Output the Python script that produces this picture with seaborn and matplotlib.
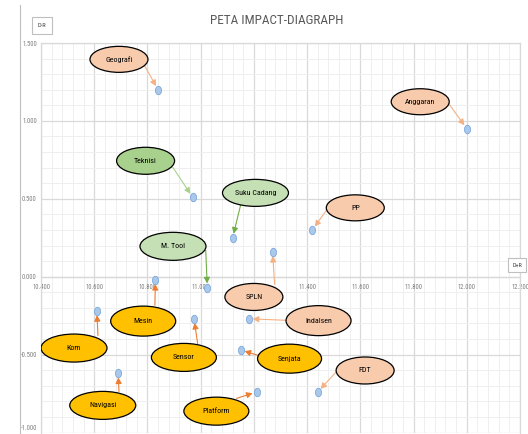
import matplotlib
matplotlib.use("Agg")
import matplotlib.pyplot as plt
import seaborn as sns
import pandas as pd
import numpy as np
from matplotlib import font_manager
from matplotlib.patches import Ellipse, FancyArrowPatch
from matplotlib.ticker import MultipleLocator, FormatStrFormatter
from matplotlib.path import Path
from matplotlib.transforms import Affine2D

# ---------------- data ----------------
labels = ["Geografi", "Anggaran", "Teknisi", "Suku Cadang", "M. Tool", "PP", "SPLN",
          "Indalsen", "Senjata", "FDT", "Mesin", "Kom", "Sensor", "Navigasi", "Platform"]
d_plus_r = [10.84, 12.00, 10.97, 11.12, 11.025, 11.42, 11.27,
            11.18, 11.15, 11.44, 10.83, 10.61, 10.975, 10.69, 11.21]
d_minus_r = [1.20, 0.95, 0.51, 0.25, -0.07, 0.30, 0.16,
             -0.27, -0.47, -0.74, -0.02, -0.22, -0.27, -0.62, -0.74]
groups = ["peach", "peach", "green2", "green", "green", "peach", "peach",
          "peach", "gold", "peach", "gold", "gold", "gold", "gold", "gold"]

title = "PETA IMPACT-DIAGRAPH"
x_ticks = [10.4, 10.6, 10.8, 11.0, 11.2, 11.4, 11.6, 11.8, 12.0, 12.2]
y_ticks = [-1.0, -0.5, 0.0, 0.5, 1.0, 1.5]

# ---------------- layout of callouts (annotation positions) ----------------
label_x = [10.693, 11.825, 10.793, 11.206, 10.896, 11.581, 11.200,
           11.443, 11.334, 11.618, 10.784, 10.524, 10.937, 10.632, 11.059]
label_y = [1.395, 1.123, 0.744, 0.538, 0.195, 0.442, -0.130,
           -0.282, -0.526, -0.602, -0.285, -0.458, -0.518, -0.826, -0.863]
tail_x = [10.790, 11.931, 10.895, 11.150, 11.019, 11.473, 11.278,
          11.323, 11.229, 11.518, 10.828, 10.614, 10.989, 10.693, 11.135]
tail_y = [1.352, 1.114, 0.703, 0.459, 0.170, 0.427, -0.049,
          -0.280, -0.512, -0.595, -0.184, -0.377, -0.434, -0.737, -0.781]
ell_w_px = [58, 58, 58, 66, 66, 58, 58, 65, 64, 58, 65, 66, 65, 66, 65]
ell_h_px = [26, 26, 27, 27, 28, 26, 27, 30, 29, 27, 30, 28, 28, 28, 28]

fill_col = {"peach": "#F8CBAD", "green": "#C5E0B4", "green2": "#A9D18E", "gold": "#FFC000"}
arrow_col = {"peach": "#F4B183", "green": "#70AD47", "green2": "#A9D18E", "gold": "#ED7D31"}

df = pd.DataFrame({"label": labels, "x": d_plus_r, "y": d_minus_r})

# ---------------- font choice: a narrow face if one is installed ----------------
sns.set_style("white")
fonts = font_manager.fontManager.ttflist
names = {f.name for f in fonts}
family, stretch = None, "normal"
for cand in ["Liberation Sans Narrow", "DejaVu Sans Condensed", "Roboto Condensed",
             "Open Sans Condensed", "Noto Sans Condensed"]:
    if cand in names:
        family = cand
        break
if family is None:
    for fam in ["DejaVu Sans", "Noto Sans", "Open Sans", "Roboto", "Liberation Sans"]:
        if any(f.name == fam and "condensed" in str(f.stretch).lower() for f in fonts):
            family, stretch = fam, "condensed"
            break
if family is None:
    family = "DejaVu Sans"
plt.rcParams["font.family"] = [family, "DejaVu Sans"]
plt.rcParams["font.stretch"] = stretch
narrow = family != "DejaVu Sans" or stretch == "condensed"

W, H = 528, 434
fig = plt.figure(figsize=(W / 100, H / 100), dpi=100)
left_px, right_px, top_px, bot_px = 41, 520, 43, 432.5
ax = fig.add_axes([left_px / W, 1 - bot_px / H, (right_px - left_px) / W, (bot_px - top_px) / H])

xmin, xmax, ymin, ymax = 10.4, 12.2, -1.0, 1.5
ax.set_xlim(xmin, xmax)
ax.set_ylim(ymin, ymax)
sx = (right_px - left_px) / (xmax - xmin)   # px per x unit
sy = (bot_px - top_px) / (ymax - ymin)      # px per y unit

# grid
ax.xaxis.set_major_locator(MultipleLocator(0.2))
ax.xaxis.set_minor_locator(MultipleLocator(0.04))
ax.yaxis.set_major_locator(MultipleLocator(0.5))
ax.yaxis.set_minor_locator(MultipleLocator(0.1))
ax.grid(which="major", color="#D9D9D9", lw=0.9)
ax.grid(which="minor", color="#EFEFEF", lw=0.7)
ax.set_axisbelow(True)
ax.xaxis.set_major_formatter(FormatStrFormatter("%.3f"))
ax.yaxis.set_major_formatter(FormatStrFormatter("%.3f"))
ax.tick_params(which="both", length=0)
tsz = 4.8 if narrow else 4.3
ax.tick_params(axis="x", labelsize=tsz, labelcolor="#7F7F7F", pad=5)
ax.tick_params(axis="y", labelsize=tsz, labelcolor="#7F7F7F", pad=3)
ax.spines["bottom"].set_position(("data", 0))
for s in ax.spines.values():
    s.set_color("#D9D9D9")
    s.set_linewidth(0.9)

# ellipse-ish marker for points
circ = Path.unit_circle()
oval = Affine2D().scale(0.72, 1.0).transform_path(circ)
sns.scatterplot(data=df, x="x", y="y", ax=ax, marker=oval, s=38,
                color="#A9C8EA", edgecolor="#6FA0D8", linewidth=0.5, zorder=4, legend=False)
ax.set_xlabel("")
ax.set_ylabel("")

# keep the lowest y label inside the canvas
fig.canvas.draw()
for t in ax.get_yticklabels():
    if t.get_text().startswith("-1"):
        t.set_va("bottom")

# callouts
lsz = 5.8 if narrow else 5.4
for i, lab in enumerate(labels):
    g = groups[i]
    e = Ellipse((label_x[i], label_y[i]), ell_w_px[i] / sx, ell_h_px[i] / sy,
                facecolor=fill_col[g], edgecolor="black", lw=0.9, zorder=5)
    ax.add_patch(e)
    ax.text(label_x[i], label_y[i], lab, ha="center", va="center", fontsize=lsz,
            color="black", zorder=6)
    arr = FancyArrowPatch((tail_x[i], tail_y[i]), (d_plus_r[i], d_minus_r[i]),
                          arrowstyle="-|>,head_length=3.5,head_width=1.8",
                          color=arrow_col[g], lw=0.8, shrinkA=0, shrinkB=3, zorder=3)
    ax.add_patch(arr)

# left ruler axis
rtop_px = 5
ax2 = fig.add_axes([20 / W, 0, 0.0001, 1 - rtop_px / H])
ax2.set_ylim(ymin - (H - bot_px) / sy, ymax + (top_px - rtop_px) / sy)
ax2.yaxis.set_major_locator(MultipleLocator(0.1))
ax2.tick_params(axis="y", which="both", direction="out", length=5, color="#BFBFBF",
                labelleft=False, width=0.8)
ax2.set_xticks([])
for k in ["top", "right", "bottom"]:
    ax2.spines[k].set_visible(False)
ax2.spines["left"].set_color("#BFBFBF")
ax2.spines["left"].set_linewidth(0.8)
ax2.patch.set_alpha(0)

# title and axis tags
fig.text(277 / W, 1 - 21 / H, title, ha="center", va="center",
         fontsize=9.5 if narrow else 8.5, color="#595959")
fig.text(42 / W, 1 - 25.5 / H, "D-R", ha="center", va="center", fontsize=4.6, color="#404040",
         bbox=dict(boxstyle="square,pad=0.9", fc="white", ec="#BFBFBF", lw=0.8))
fig.text(517 / W, 1 - 265 / H, "D+R", ha="center", va="center", fontsize=4.4, color="#404040",
         bbox=dict(boxstyle="square,pad=0.7", fc="white", ec="#BFBFBF", lw=0.8))

fig.savefig("out.png", dpi=100)
